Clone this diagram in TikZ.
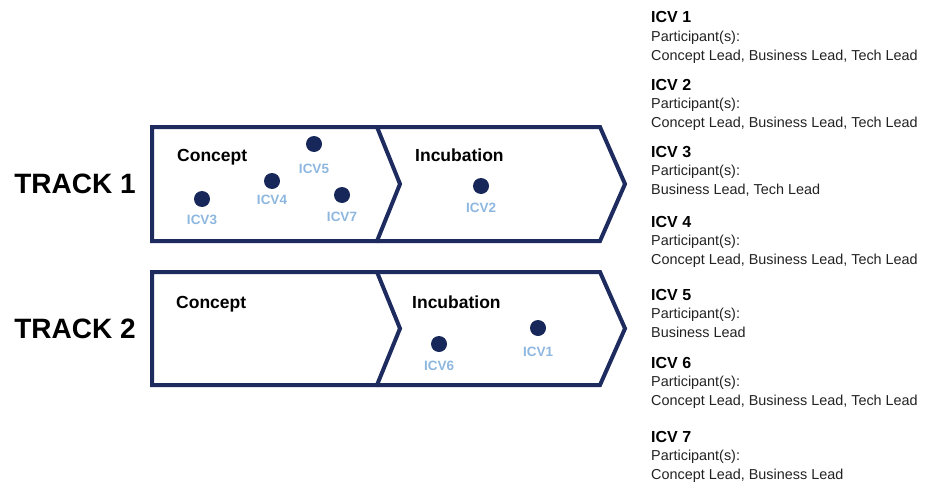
\documentclass[tikz,border=0pt]{standalone}
\usepackage{fontspec}
\setmainfont{Liberation Sans}
\definecolor{navy}{HTML}{1E2B5E}
\definecolor{dotnavy}{HTML}{18275A}
\definecolor{skyblue}{HTML}{8DB7DE}
\definecolor{bodygray}{HTML}{222222}
\begin{document}
\begin{tikzpicture}[x=1pt,y=-1pt,
  stageline/.style={draw=navy,line width=4pt,line join=miter},
  tracklabel/.style={font=\fontsize{28}{34}\selectfont\bfseries,anchor=center},
  stagelabel/.style={font=\fontsize{17.5}{21}\selectfont\bfseries,anchor=base west,inner sep=0pt},
  icvdot/.style={circle,fill=dotnavy,inner sep=0pt,minimum size=16pt},
  icvlabel/.style={font=\fontsize{13.5}{16}\selectfont\bfseries,text=skyblue,anchor=center},
  headtext/.style={font=\fontsize{16}{19}\selectfont\bfseries,anchor=base west,inner sep=0pt},
  bodytext/.style={font=\fontsize{14.4}{17}\selectfont,text=bodygray,anchor=base west,inner sep=0pt}]
\useasboundingbox (0,0) rectangle (925,487);

% Track 1: concept and incubation chevrons
\draw[stageline] (152,127) -- (377,127) -- (400,184) -- (377,241) -- (152,241) -- cycle;
\draw[stageline] (377,127) -- (600,127) -- (625,184) -- (600,241) -- (377,241);
% Track 2
\draw[stageline] (152,272) -- (377,272) -- (400,328.5) -- (377,385) -- (152,385) -- cycle;
\draw[stageline] (377,272) -- (600,272) -- (625,328.5) -- (600,385) -- (377,385);

% Track titles
\node[tracklabel] (t1) at (75,184) {TRACK 1};
\node[tracklabel] (t2) at (75,328.5) {TRACK 2};

% Stage names
\node[stagelabel] (c1) at (177,161) {Concept};
\node[stagelabel] (i1) at (415,161) {Incubation};
\node[stagelabel] (c2) at (176,308) {Concept};
\node[stagelabel] (i2) at (412,308) {Incubation};

% Initiatives placed in their stages
\node[icvdot] (d5) at (314,144) {};
\node[icvlabel] (l5) at (314,169) {ICV5};
\node[icvdot] (d4) at (272,181) {};
\node[icvlabel] (l4) at (272,200) {ICV4};
\node[icvdot] (d3) at (202,199) {};
\node[icvlabel] (l3) at (202,220) {ICV3};
\node[icvdot] (d7) at (342,195) {};
\node[icvlabel] (l7) at (342,217) {ICV7};
\node[icvdot] (d2) at (481,186) {};
\node[icvlabel] (l2) at (481,208) {ICV2};
\node[icvdot] (d6) at (439,344) {};
\node[icvlabel] (l6) at (439,366) {ICV6};
\node[icvdot] (d1) at (538,328) {};
\node[icvlabel] (l1) at (538,352) {ICV1};

% Participant list
\foreach \n/\yb/\who in {
  1/23/{Concept Lead, Business Lead, Tech Lead},
  2/90/{Concept Lead, Business Lead, Tech Lead},
  3/157/{Business Lead, Tech Lead},
  4/227/{Concept Lead, Business Lead, Tech Lead},
  5/300/{Business Lead},
  6/368/{Concept Lead, Business Lead, Tech Lead},
  7/442/{Concept Lead, Business Lead}}{
  \node[headtext] (h\n) at (651,\yb) {ICV \n};
  \node[bodytext] (p\n) at (651,\yb+18.5) {Participant(s):};
  \node[bodytext] (w\n) at (651,\yb+37) {\who};
}
\end{tikzpicture}
\end{document}
